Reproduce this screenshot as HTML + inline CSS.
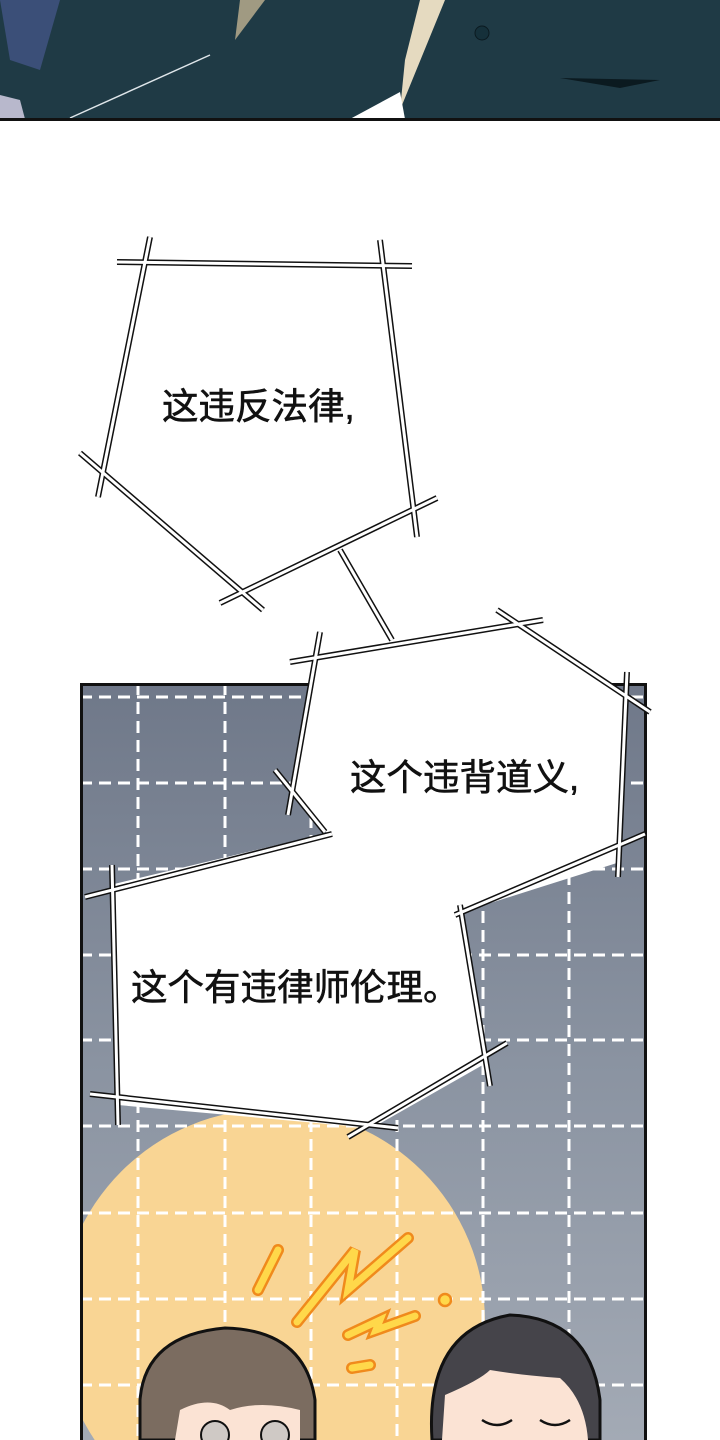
<!DOCTYPE html>
<html><head><meta charset="utf-8"><style>
html,body{margin:0;padding:0;background:#fff;overflow:hidden;width:720px;height:1440px;}
svg{display:block;}
text{font-family:"Liberation Sans","Noto Sans CJK SC",sans-serif;font-size:36.5px;fill:#111;stroke:#111;stroke-width:0.6;}
</style></head><body>
<svg width="720" height="1440" viewBox="0 0 720 1440" xmlns="http://www.w3.org/2000/svg">
<defs>
<linearGradient id="bg" x1="0" y1="0" x2="0" y2="1">
<stop offset="0" stop-color="#6f7889"/><stop offset="0.5" stop-color="#8a93a1"/><stop offset="1" stop-color="#a3aab5"/>
</linearGradient>
<clipPath id="p2"><rect x="82" y="685" width="563" height="755"/></clipPath>
</defs>
<rect width="720" height="1440" fill="#fff"/>
<rect x="0" y="0" width="720" height="119" fill="#1f3a45"/>
<polygon points="0,0 60,0 40,70 10,60" fill="#3b4f78"/>
<polygon points="0,95 20,100 25,119 0,119" fill="#b8b8cc"/>
<polygon points="240,0 265,0 235,40" fill="#a09a82"/>
<polygon points="420,0 445,0 400,110 405,60" fill="#e5dac0"/>
<polygon points="350,119 400,92 405,119" fill="#fff"/>
<line x1="70" y1="118" x2="210" y2="55" stroke="#dfe6ea" stroke-width="1.5"/>
<polygon points="560,78 660,80 620,88" fill="#0b1a20"/>
<circle cx="482" cy="33" r="7" fill="#15303a" stroke="#0b1a20"/>
<rect x="0" y="118" width="720" height="3" fill="#111"/>
<g clip-path="url(#p2)">
<rect x="80" y="683" width="567" height="757" fill="url(#bg)"/>
<circle cx="272" cy="1322" r="213" fill="#f9d594"/>
<g stroke="#fff" stroke-width="3" stroke-dasharray="12,7" fill="none">
<line x1="138" y1="683" x2="138" y2="1440"/><line x1="225" y1="683" x2="225" y2="1440"/>
<line x1="311" y1="683" x2="311" y2="1440"/><line x1="397" y1="683" x2="397" y2="1440"/>
<line x1="483" y1="683" x2="483" y2="1440"/><line x1="569" y1="683" x2="569" y2="1440"/>
<line x1="80" y1="697" x2="647" y2="697"/><line x1="80" y1="783" x2="647" y2="783"/>
<line x1="80" y1="869" x2="647" y2="869"/><line x1="80" y1="955" x2="647" y2="955"/>
<line x1="80" y1="1040" x2="647" y2="1040"/><line x1="80" y1="1126" x2="647" y2="1126"/>
<line x1="80" y1="1213" x2="647" y2="1213"/><line x1="80" y1="1299" x2="647" y2="1299"/>
<line x1="80" y1="1385" x2="647" y2="1385"/>
</g>
<g stroke="#f08a1c" stroke-width="12" stroke-linecap="round" fill="none">
<path d="M278,1250 L258,1290"/><path d="M297,1322 L355,1250 L348,1290 L408,1238"/>
<path d="M348,1335 L380,1320 L376,1330 L415,1316"/><path d="M352,1368 L370,1365"/>
</g>
<g stroke="#ffd84a" stroke-width="7" stroke-linecap="round" fill="none">
<path d="M278,1250 L258,1290"/><path d="M297,1322 L355,1250 L348,1290 L408,1238"/>
<path d="M348,1335 L380,1320 L376,1330 L415,1316"/><path d="M352,1368 L370,1365"/>
</g>
<circle cx="445" cy="1300" r="6" fill="#ffd84a" stroke="#f08a1c" stroke-width="2.5"/>
<path d="M140,1440 L140,1400 Q145,1335 225,1328 Q305,1330 315,1400 L315,1440 Z" fill="#7b6c60" stroke="#111" stroke-width="3"/>
<path d="M175,1440 L180,1410 Q210,1395 230,1410 Q260,1400 300,1410 L300,1440 Z" fill="#fbe3d4"/>
<circle cx="215" cy="1435" r="14" fill="#cfc9c5" stroke="#111" stroke-width="2"/>
<circle cx="275" cy="1435" r="14" fill="#cfc9c5" stroke="#111" stroke-width="2"/>
<path d="M432,1440 Q425,1330 510,1315 Q590,1318 600,1400 L600,1440 Z" fill="#45444a" stroke="#111" stroke-width="3"/>
<path d="M442,1440 L445,1395 Q480,1380 490,1370 Q520,1375 560,1378 Q585,1400 588,1440 Z" fill="#fbe3d4"/>
<path d="M482,1420 Q497,1430 512,1420 M540,1420 Q555,1430 570,1420" stroke="#111" stroke-width="2.5" fill="none"/>
</g>
<path d="M81.5,1440 L81.5,684.5 L645.5,684.5 L645.5,1440" fill="none" stroke="#111" stroke-width="3"/>
<g fill="#fff">
<polygon points="146,264 384,266 414,522 340,550 245,600 92,462"/>
<polygon points="338,550 346,548 395,640 388,644"/>
<polygon points="316,657 515,628 628,700 620,862 462,912 488,1062 372,1128 118,1105 110,885 327,833 292,792"/>
</g>
<g stroke="#111" stroke-width="6" stroke-linecap="butt" fill="none">
<line x1="117" y1="262" x2="412" y2="266"/><line x1="150" y1="237" x2="98" y2="497"/>
<line x1="380" y1="240" x2="417" y2="537"/><line x1="80" y1="453" x2="263" y2="610"/>
<line x1="220" y1="603" x2="437" y2="498"/><line x1="340" y1="550" x2="392" y2="640"/>
<line x1="290" y1="662" x2="543" y2="620"/><line x1="497" y1="610" x2="650" y2="712"/>
<line x1="627" y1="672" x2="618" y2="877"/><line x1="320" y1="632" x2="288" y2="815"/>
<line x1="275" y1="770" x2="325" y2="832"/><line x1="455" y1="915" x2="645" y2="834"/>
<line x1="85" y1="897" x2="332" y2="834"/><line x1="112" y1="865" x2="118" y2="1125"/>
<line x1="90" y1="1094" x2="398" y2="1128"/><line x1="348" y1="1137" x2="507" y2="1043"/>
<line x1="460" y1="905" x2="490" y2="1086"/>
</g>
<g stroke="#fff" stroke-width="3" fill="none">
<line x1="117" y1="262" x2="412" y2="266"/><line x1="150" y1="237" x2="98" y2="497"/>
<line x1="380" y1="240" x2="417" y2="537"/><line x1="80" y1="453" x2="263" y2="610"/>
<line x1="220" y1="603" x2="437" y2="498"/><line x1="340" y1="550" x2="392" y2="640"/>
<line x1="290" y1="662" x2="543" y2="620"/><line x1="497" y1="610" x2="650" y2="712"/>
<line x1="627" y1="672" x2="618" y2="877"/><line x1="320" y1="632" x2="288" y2="815"/>
<line x1="275" y1="770" x2="325" y2="832"/><line x1="455" y1="915" x2="645" y2="834"/>
<line x1="85" y1="897" x2="332" y2="834"/><line x1="112" y1="865" x2="118" y2="1125"/>
<line x1="90" y1="1094" x2="398" y2="1128"/><line x1="348" y1="1137" x2="507" y2="1043"/>
<line x1="460" y1="905" x2="490" y2="1086"/>
</g>
<text x="162" y="419">这违反法律,</text>
<text x="350" y="790">这个违背道义,</text>
<text x="131" y="1000">这个有违律师伦理。</text>
</svg>
</body></html>
